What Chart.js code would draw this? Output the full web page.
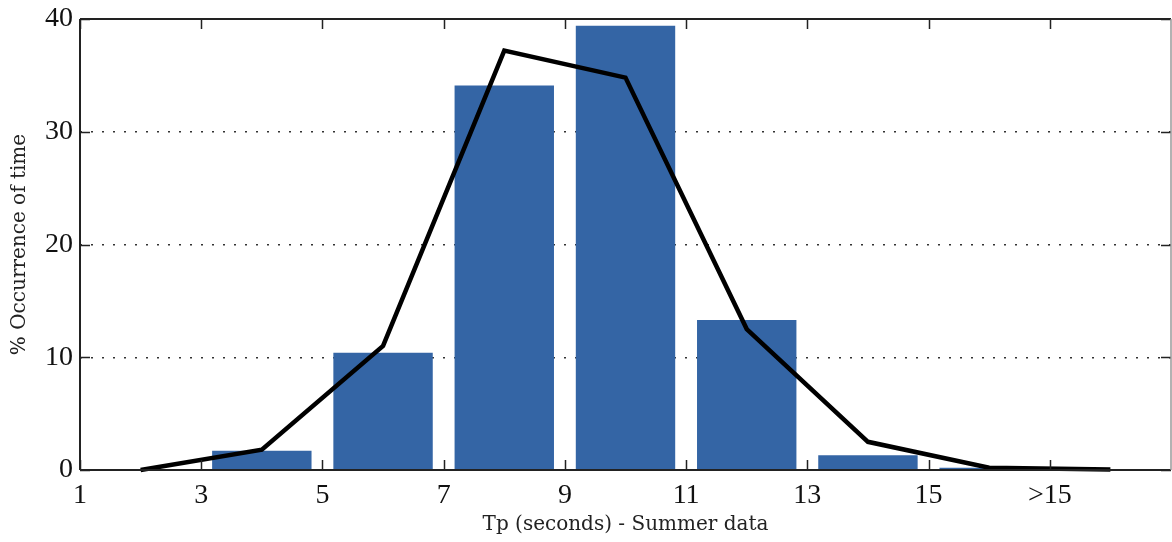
<!DOCTYPE html>
<html>
<head>
<meta charset="utf-8">
<script src="https://cdn.jsdelivr.net/npm/chart.js@4.4.0/dist/chart.umd.min.js"></script>
<style>
  html, body { margin: 0; padding: 0; background: #fff; }
  #wrap { width: 1172px; height: 542px; position: relative; }
</style>
</head>
<body>
<div id="wrap"><canvas id="c" width="1172" height="542"></canvas></div>
<script>
// ---- data ----
const barCenters = [4, 6, 8, 10, 12, 14, 16];
const barValues  = [1.7, 10.4, 34.1, 39.4, 13.3, 1.3, 0.2];
const lineX      = [2, 4, 6, 8, 10, 12, 14, 16, 18];
const lineValues = [0, 1.8, 11.0, 37.2, 34.8, 12.5, 2.5, 0.2, 0.05];
const xTickValues = [1, 3, 5, 7, 9, 11, 13, 15, 17];
const xTickLabels = ['1', '3', '5', '7', '9', '11', '13', '15', '>15'];
const yTickValues = [0, 10, 20, 30, 40];
const xTitle = 'Tp (seconds) - Summer data';
const yTitle = '% Occurrence of time';

const tickFont = { family: 'Liberation Serif', size: 28 };
const titleFont = { family: 'DejaVu Serif', size: 20 };

const frameTicks = {
  id: 'frameTicks',
  afterDraw(chart) {
    const { ctx, chartArea: a, scales } = chart;
    const xs = scales.x, ys = scales.y;
    ctx.save();
    ctx.strokeStyle = '#222';
    ctx.lineWidth = 1.5;
    const L = 10;
    ctx.beginPath();
    xTickValues.forEach(v => {
      const px = Math.round(xs.getPixelForValue(v)) + 0.5;
      ctx.moveTo(px, a.bottom); ctx.lineTo(px, a.bottom - L);
      ctx.moveTo(px, a.top); ctx.lineTo(px, a.top + L);
    });
    yTickValues.forEach(v => {
      const py = Math.round(ys.getPixelForValue(v)) + 0.5;
      ctx.moveTo(a.left, py); ctx.lineTo(a.left + L, py);
      ctx.moveTo(a.right, py); ctx.lineTo(a.right - L, py);
    });
    ctx.stroke();
    ctx.lineWidth = 2;
    ctx.strokeStyle = '#222';
    ctx.beginPath();
    ctx.moveTo(a.left, a.top); ctx.lineTo(a.right, a.top);
    ctx.moveTo(a.left, a.bottom); ctx.lineTo(a.right, a.bottom);
    ctx.moveTo(a.left, a.top); ctx.lineTo(a.left, a.bottom);
    ctx.stroke();
    ctx.strokeStyle = '#999';
    ctx.lineWidth = 1.5;
    ctx.beginPath();
    ctx.moveTo(a.right, a.top); ctx.lineTo(a.right, a.bottom);
    ctx.stroke();
    ctx.restore();
  }
};

new Chart(document.getElementById('c'), {
  data: {
    datasets: [
      {
        type: 'line',
        data: lineX.map((x, i) => ({ x, y: lineValues[i] })),
        borderColor: '#000',
        borderWidth: 4.5,
        pointRadius: 0,
        tension: 0,
        fill: false,
        order: 0,
        clip: false
      },
      {
        type: 'bar',
        data: barCenters.map((x, i) => ({ x, y: barValues[i] })),
        backgroundColor: '#3465A5',
        borderWidth: 0,
        barPercentage: 0.82,
        categoryPercentage: 1.0,
        order: 1
      }
    ]
  },
  options: {
    responsive: false,
    animation: false,
    layout: { padding: { top: 19, right: 1, left: 0, bottom: 0 } },
    plugins: { legend: { display: false }, tooltip: { enabled: false } },
    scales: {
      x: {
        type: 'linear',
        offset: false,
        min: 1, max: 19,
        afterBuildTicks: s => { s.ticks = xTickValues.map(v => ({ value: v })); },
        afterFit: s => { s.height = 72; s.paddingLeft = 0; s.paddingRight = 0; },
        ticks: {
          autoSkip: false, maxRotation: 0, padding: 9,
          color: '#111', font: tickFont,
          callback: (v) => { const i = xTickValues.indexOf(v); return i >= 0 ? xTickLabels[i] : ''; }
        },
        grid: { display: false, drawTicks: false, offset: false },
        border: { display: false },
        title: { display: true, text: xTitle, font: titleFont, color: '#222', padding: { top: 0, bottom: 5 } }
      },
      y: {
        min: 0, max: 40,
        afterBuildTicks: s => { s.ticks = yTickValues.map(v => ({ value: v })); },
        afterFit: s => { s.width = 80; s.paddingTop = 0; s.paddingBottom = 0; },
        ticks: { padding: 7, color: '#111', font: tickFont },
        grid: {
          drawTicks: false,
          color: ctx => (ctx.tick && ctx.tick.value > 0 && ctx.tick.value < 40) ? '#333' : 'rgba(0,0,0,0)',
          lineWidth: 1.5
        },
        border: { display: false, dash: [2, 9] },
        title: { display: true, text: yTitle, font: titleFont, color: '#222', padding: { top: 8, bottom: 0 } }
      }
    }
  },
  plugins: [frameTicks]
});
</script>
</body>
</html>
